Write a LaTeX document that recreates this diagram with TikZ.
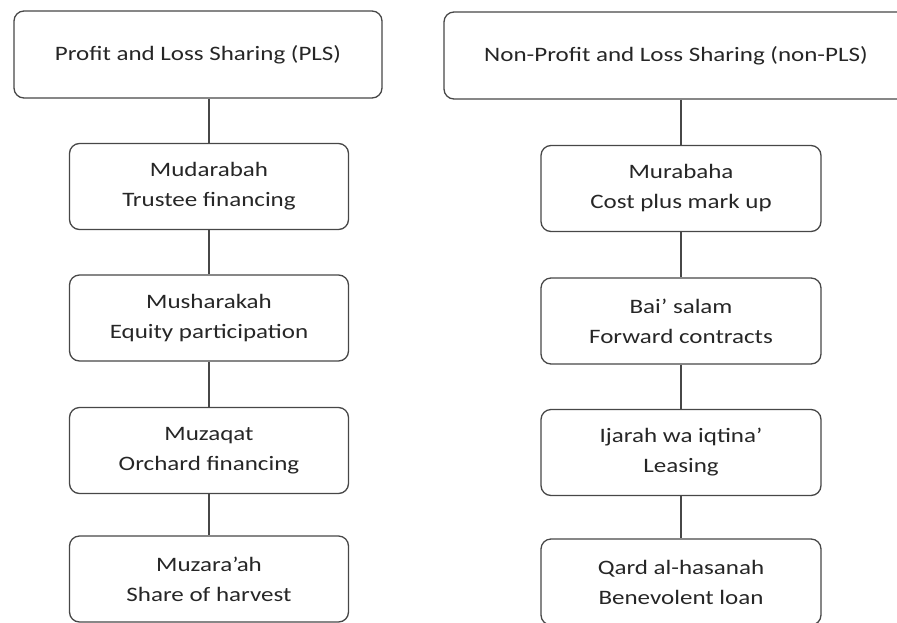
\documentclass[tikz,border=0pt]{standalone}
\usepackage{fontspec}
\setmainfont{Carlito}[FakeStretch=1.22]

\begin{document}
\begin{tikzpicture}[x=1pt,y=-1pt,
  box/.style={draw=black!72,line width=1.3pt,rounded corners=10pt,align=center,
    text=black!85,font=\fontsize{20.5}{30}\selectfont,inner sep=0pt},
  sub/.style={box,minimum width=279pt,minimum height=86pt},
  link/.style={draw=black!72,line width=1.3pt}]
\useasboundingbox (0,0) rectangle (897,622);
\node[box,minimum width=368pt,minimum height=87pt] (pls) at (198,54.5) {Profit and Loss Sharing (PLS)};
\node[sub] (mudarabah) at (209,186.5) {Mudarabah\\Trustee financing};
\node[sub] (musharakah) at (209,318) {Musharakah\\Equity participation};
\node[sub] (muzaqat) at (209,450.5) {Muzaqat\\Orchard financing};
\node[sub] (muzaraah) at (209,579) {Muzara’ah\\Share of harvest};
\node[box,minimum width=464pt,minimum height=87pt] (npls) at (676,55.5) {Non-Profit and Loss Sharing (non-PLS)};
\node[sub,minimum width=280pt] (murabaha) at (681,188.5) {Murabaha\\Cost plus mark up};
\node[sub,minimum width=280pt] (salam) at (681,321) {Bai’ salam\\Forward contracts};
\node[sub,minimum width=280pt] (ijarah) at (681,452.5) {Ijarah wa iqtina’\\Leasing};
\node[sub,minimum width=280pt] (qard) at (681,582) {Qard al-hasanah\\Benevolent loan};
\draw[link] (pls.south -| mudarabah) -- (mudarabah.north);
\draw[link] (mudarabah) -- (musharakah);
\draw[link] (musharakah) -- (muzaqat);
\draw[link] (muzaqat) -- (muzaraah);
\draw[link] (npls.south -| murabaha) -- (murabaha.north);
\draw[link] (murabaha) -- (salam);
\draw[link] (salam) -- (ijarah);
\draw[link] (ijarah) -- (qard);
\end{tikzpicture}
\end{document}
